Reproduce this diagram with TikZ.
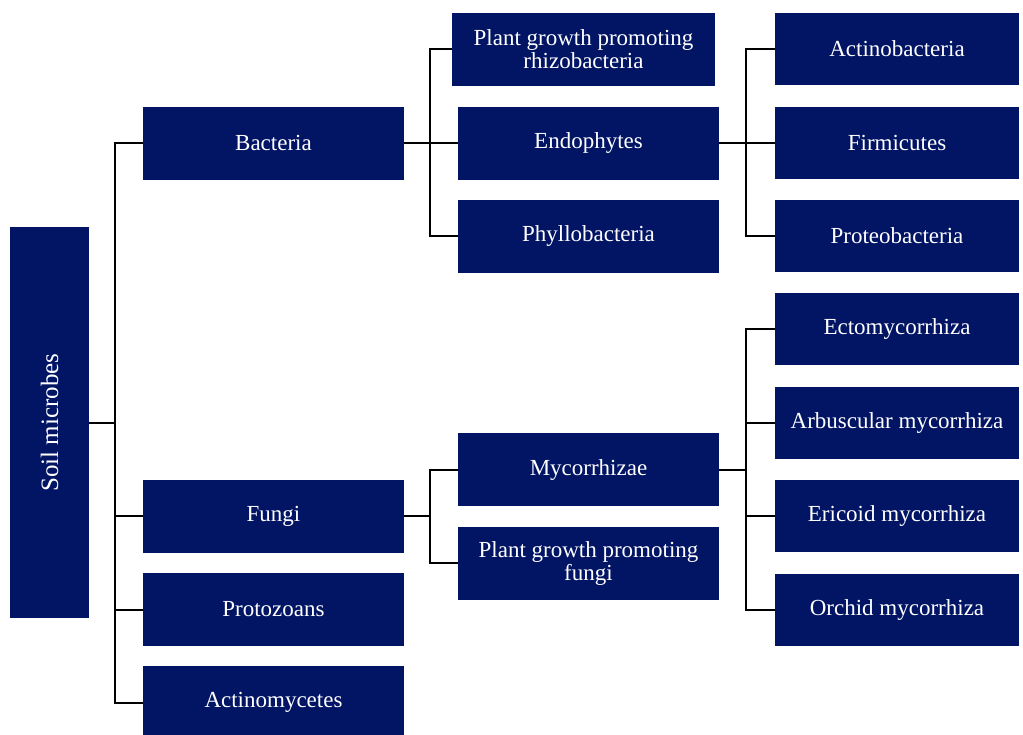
\documentclass[tikz,border=0pt]{standalone}
\usepackage{fontspec}
\setmainfont{Liberation Serif}
\definecolor{navy}{RGB}{2,20,100}
\begin{document}
\begin{tikzpicture}[x=1pt,y=-1pt,
  box/.style={rectangle, fill=navy, text=white, inner sep=0pt, align=center,
    font=\fontsize{23}{23}\selectfont},
  midbox/.style={box, minimum width=261pt, minimum height=73pt},
  rbox/.style={box, minimum width=244pt, minimum height=72pt},
  link/.style={draw=black, line width=2pt}]
\useasboundingbox (0,0) rectangle (1023,734);
\clip (0,0) rectangle (1023,734);
% root
\node[box, minimum width=391pt, minimum height=79pt, rotate=90,
  font=\fontsize{25}{28}\selectfont] (soil) at (49.5,422.5) {Soil microbes};
% level 1
\node[midbox] (bact) at (273.5,143) {Bacteria};
\node[midbox] (fungi) at (273.5,516) {Fungi};
\node[midbox] (proto) at (273.5,609.5) {Protozoans};
\node[midbox] (actm) at (273.5,702.5) {Actinomycetes};
% level 2
\node[midbox, minimum width=263pt] (pgpr) at (583.5,49) {Plant growth promoting\\rhizobacteria};
\node[midbox] (endo) at (588.5,143) {Endophytes};
\node[midbox] (phyl) at (588.5,236) {Phyllobacteria};
\node[midbox] (myco) at (588.5,469.5) {Mycorrhizae};
\node[midbox] (pgpf) at (588.5,563) {Plant growth promoting\\fungi};
% level 3
\node[rbox] (actb) at (897,49) {Actinobacteria};
\node[rbox] (firm) at (897,143) {Firmicutes};
\node[rbox] (prot) at (897,236) {Proteobacteria};
\node[rbox] (ecto) at (897,329) {Ectomycorrhiza};
\node[rbox] (arbu) at (897,423) {Arbuscular mycorrhiza};
\node[rbox] (eric) at (897,516) {Ericoid mycorrhiza};
\node[rbox] (orch) at (897,609.5) {Orchid mycorrhiza};
% connectors: root
\draw[link] (soil.south) -- ++(26,0);
\draw[link] (bact.west) -- ++(-28,0) |- (actm.west);
\draw[link] (fungi.west) -- ++(-28,0);
\draw[link] (proto.west) -- ++(-28,0);
% bacteria
\draw[link] (bact.east) -- ++(26,0);
\draw[link] (pgpr.west) -- ++(-22,0) |- (phyl.west);
\draw[link] (endo.west) -- ++(-28,0);
% endophytes
\draw[link] (endo.east) -- ++(27,0);
\draw[link] (actb.west) -- ++(-29,0) |- (prot.west);
\draw[link] (firm.west) -- ++(-29,0);
% fungi
\draw[link] (fungi.east) -- ++(26,0);
\draw[link] (myco.west) -- ++(-28,0) |- (pgpf.west);
% mycorrhizae
\draw[link] (myco.east) -- ++(27,0);
\draw[link] (ecto.west) -- ++(-29,0) |- (orch.west);
\draw[link] (arbu.west) -- ++(-29,0);
\draw[link] (eric.west) -- ++(-29,0);
\end{tikzpicture}
\end{document}
